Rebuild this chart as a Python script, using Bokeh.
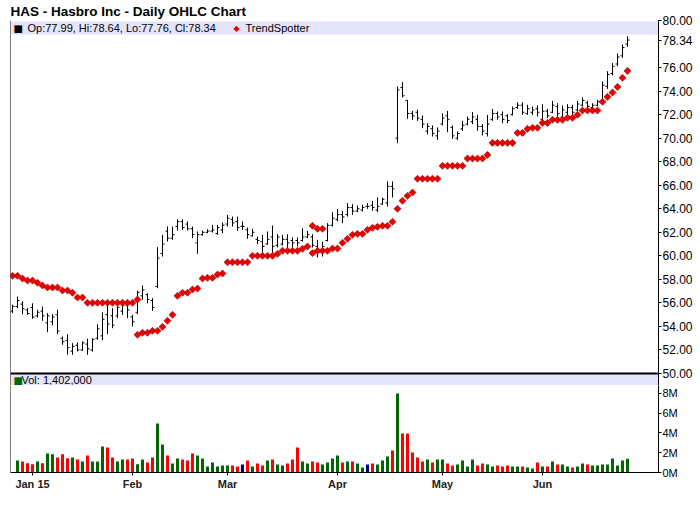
import math
from bokeh.plotting import figure
from bokeh.layouts import column
from bokeh.models import (Range1d, FixedTicker, BoxAnnotation, Span, Label,
                          ColumnDataSource, PrintfTickFormatter)
from bokeh.embed import file_html
from bokeh.resources import INLINE

# ---------------- data (Dec 26 2014 .. Jun 24 2015, one entry per trading day) ----------------
bar_index = list(range(124))

highs = [55.84, 56.54, 56.12, 55.55, 55.97, 55.41, 55.69, 55.13, 55.04, 55.41,
         53.14, 53.34, 52.58, 52.64, 52.72, 52.95, 53.00, 54.19, 55.21, 55.89,
         55.55, 55.97, 56.18, 56.12, 54.99, 57.03, 57.48, 56.82, 56.40, 60.73,
         61.78, 62.49, 62.49, 63.11, 63.11, 62.92, 62.49, 62.07, 62.15, 62.26,
         62.63, 62.63, 62.83, 63.48, 63.34, 63.34, 62.92, 62.41, 62.30, 61.64,
         61.79, 62.07, 62.58, 61.84, 61.79, 61.84, 61.56, 61.56, 62.35, 62.13,
         61.84, 61.36, 61.22, 62.78, 63.71, 63.99, 63.83, 64.48, 64.39, 64.28,
         64.34, 64.48, 64.67, 64.96, 64.96, 66.32, 66.32, 74.40, 74.76, 73.26,
         72.32, 72.41, 71.93, 71.27, 71.08, 70.91, 72.12, 72.32, 71.08, 70.57,
         71.47, 71.84, 72.21, 71.98, 71.19, 71.98, 72.49, 72.27, 72.27, 72.04,
         72.69, 73.06, 73.06, 72.83, 72.69, 72.78, 72.89, 72.49, 73.17, 72.97,
         72.78, 72.89, 72.83, 73.17, 73.46, 73.17, 72.97, 73.26, 74.82, 75.69,
         76.40, 77.20, 77.96, 78.64]

lows = [55.13, 55.55, 55.04, 54.99, 54.65, 54.76, 54.48, 53.51, 54.08, 53.34,
        52.44, 51.59, 51.59, 51.87, 51.93, 51.59, 51.87, 52.86, 52.83, 53.34,
        53.85, 54.70, 54.99, 54.70, 54.00, 55.04, 56.26, 55.97, 55.33, 57.25,
        59.94, 61.22, 61.36, 62.15, 62.21, 62.15, 61.50, 60.17, 61.70, 61.92,
        61.98, 61.78, 61.92, 62.49, 62.49, 62.13, 62.21, 61.45, 61.64, 60.99,
        60.09, 60.94, 60.14, 60.71, 60.88, 60.37, 60.71, 60.79, 61.22, 61.50,
        60.71, 59.86, 59.94, 61.22, 62.49, 62.92, 62.78, 63.34, 63.48, 63.71,
        63.77, 63.99, 63.83, 63.71, 64.34, 64.19, 64.96, 69.57, 73.46, 71.64,
        71.56, 71.47, 70.85, 70.34, 70.14, 69.86, 71.08, 70.51, 69.94, 69.86,
        70.62, 71.08, 71.19, 70.62, 70.23, 70.14, 71.47, 71.56, 71.27, 71.27,
        71.93, 72.49, 71.98, 71.98, 71.98, 71.84, 71.27, 71.70, 72.12, 71.70,
        71.56, 71.93, 71.84, 72.27, 72.69, 72.41, 72.49, 72.69, 73.06, 74.19,
        75.33, 76.12, 76.83, 77.76]

opens = [55.30, 55.70, 55.90, 55.40, 55.60, 54.90, 55.30, 54.30, 54.40, 55.00,
         53.00, 52.80, 51.90, 52.40, 52.00, 52.50, 52.00, 53.00, 53.20, 55.00,
         54.90, 54.90, 55.30, 55.80, 54.80, 55.20, 56.60, 56.70, 56.20, 57.40,
         60.20, 62.10, 61.50, 62.50, 62.90, 62.70, 62.30, 61.10, 61.80, 62.00,
         62.10, 61.90, 62.20, 62.70, 63.10, 62.90, 62.50, 62.20, 61.70, 61.40,
         61.20, 61.00, 61.60, 60.90, 61.00, 61.40, 61.30, 61.30, 61.30, 61.60,
         61.60, 60.80, 60.30, 61.30, 62.60, 63.10, 63.50, 63.50, 64.10, 63.80,
         63.90, 64.20, 64.30, 63.90, 64.40, 64.50, 65.90, 70.00, 74.30, 73.20,
         72.10, 72.20, 71.60, 70.60, 70.80, 70.20, 71.20, 71.90, 70.90, 70.00,
         70.80, 71.20, 71.40, 71.60, 71.00, 70.40, 71.60, 72.10, 72.00, 71.90,
         72.00, 72.60, 72.80, 72.10, 72.20, 72.50, 71.60, 72.30, 72.20, 72.70,
         71.80, 72.20, 72.60, 72.40, 72.80, 73.00, 72.60, 72.80, 73.10, 74.40,
         75.50, 76.30, 77.00, 77.99]

closes = [55.70, 56.20, 55.50, 55.10, 54.80, 55.20, 54.90, 54.90, 54.80, 53.60,
          52.70, 52.20, 52.30, 52.00, 52.60, 52.10, 52.90, 53.80, 54.60, 54.20,
          54.10, 55.60, 55.80, 55.40, 54.40, 56.90, 57.10, 56.30, 55.60, 59.80,
          61.00, 61.50, 61.80, 62.90, 62.40, 62.30, 61.80, 61.80, 62.00, 62.10,
          62.20, 62.40, 62.60, 63.20, 62.80, 62.40, 62.50, 61.80, 62.00, 61.30,
          60.80, 61.40, 60.80, 61.60, 61.40, 61.10, 61.10, 61.10, 61.60, 61.80,
          60.90, 60.30, 60.80, 62.60, 63.20, 63.50, 63.30, 64.10, 63.80, 64.00,
          64.10, 64.20, 64.10, 64.20, 64.80, 65.90, 65.70, 74.10, 73.60, 72.10,
          71.90, 71.70, 71.20, 71.00, 70.40, 70.60, 71.70, 71.60, 70.20, 70.40,
          71.10, 71.60, 71.80, 71.00, 70.60, 71.20, 72.10, 71.80, 71.60, 71.50,
          72.50, 72.80, 72.20, 72.50, 72.40, 72.20, 72.30, 71.90, 72.80, 72.10,
          72.40, 72.60, 72.20, 72.90, 73.20, 72.70, 72.80, 73.10, 74.50, 75.40,
          76.10, 76.90, 77.70, 78.34]

# volume in millions of shares (first day not shown)
volumes_m = [float("nan"), 1.22, 1.11, 0.94, 0.84, 1.11, 0.94, 1.92, 1.86, 1.52,
             1.86, 1.45, 1.52, 1.32, 1.11, 1.72, 1.11, 1.11, 2.63, 2.53,
             1.52, 1.11, 1.32, 1.32, 1.42, 0.84, 1.32, 1.01, 1.52, 4.96,
             2.84, 1.72, 0.91, 1.42, 1.32, 1.22, 1.92, 1.72, 1.42, 0.61,
             1.01, 0.61, 0.71, 0.71, 0.71, 0.61, 0.81, 1.22, 0.61, 0.91,
             0.71, 1.22, 1.32, 0.81, 0.71, 0.91, 1.32, 2.53, 1.11, 0.91,
             1.11, 1.01, 0.81, 1.01, 1.42, 1.72, 1.01, 1.11, 1.11, 0.91,
             0.51, 0.81, 0.91, 0.81, 1.22, 1.62, 2.23, 8.00, 3.95, 3.95,
             2.03, 1.52, 1.11, 1.32, 1.01, 1.32, 1.32, 0.91, 0.71, 0.81,
             1.22, 0.61, 1.32, 0.71, 0.91, 0.81, 0.61, 0.71, 0.61, 0.71,
             0.61, 0.61, 0.61, 0.51, 0.41, 1.01, 0.61, 0.61, 1.11, 0.81,
             0.81, 0.61, 0.51, 0.61, 0.91, 0.81, 0.71, 0.71, 0.81, 0.81,
             1.42, 0.71, 1.22, 1.402]

trendspotter = [58.30, 58.30, 58.07, 57.90, 57.90, 57.71, 57.48, 57.31, 57.31, 57.31,
                57.05, 57.05, 56.86, 56.46, 56.46, 56.01, 56.01, 56.01, 56.01, 56.01,
                56.01, 56.01, 56.01, 56.01, 56.01, 53.29, 53.46, 53.46, 53.63, 53.63,
                53.97, 54.48, 54.99, 56.60, 56.86, 56.86, 57.14, 57.22, 58.07, 58.13,
                58.13, 58.41, 58.50, 59.45, 59.45, 59.45, 59.45, 59.45, 60.00, 60.00,
                60.00, 60.00, 60.00, 60.17, 60.43, 60.43, 60.43, 60.43, 60.60, 60.79,
                60.23, 60.43, 60.43, 60.43, 60.62, 60.62, 61.11, 61.45, 61.79, 61.87,
                61.87, 62.21, 62.38, 62.47, 62.55, 62.55, 62.89, 64.00, 64.68, 65.10,
                65.38, 66.55, 66.55, 66.55, 66.55, 66.55, 67.65, 67.65, 67.65, 67.65,
                67.65, 68.27, 68.27, 68.27, 68.27, 68.58, 69.60, 69.60, 69.60, 69.60,
                69.60, 70.45, 70.45, 70.79, 70.88, 70.88, 71.30, 71.30, 71.56, 71.56,
                71.56, 71.73, 71.73, 71.99, 72.35, 72.35, 72.35, 72.35, 73.09, 73.51,
                73.88, 74.36, 75.13, 75.72]

# second TrendSpotter dot shown on signal-change days
trendspotter_alt = {25: 56.29, 60: 62.55, 61: 62.30, 62: 62.30}

price_ticks = [50, 52, 54, 56, 58, 60, 62, 64, 66, 68, 70, 72, 74, 76, 78, 80]
vol_ticks_m = [0, 2, 4, 6, 8]
month_tick_index = [4, 24, 43, 65, 86, 106]
month_tick_labels = ["Jan 15", "Feb", "Mar", "Apr", "May", "Jun"]

TITLE = "HAS - Hasbro Inc - Daily OHLC Chart"

# ---------------- styling ----------------
LAV = "#E4E4FA"
GREEN = "#006600"
RED = "#FF0000"
NAVY = "#000080"
FONT = "Liberation Sans"

X0, X1 = -0.4, 129.2
P_LO, P_HI = 48.98, 80.0
V_HI = 8.81

vol_colors = [GREEN if c > o else (RED if c < o else NAVY) for o, c in zip(opens, closes)]
alt_vals = [trendspotter_alt.get(i, float("nan")) for i in bar_index]

src = ColumnDataSource(dict(
    x=bar_index,
    xl=[i - 0.4 for i in bar_index],
    xr=[i + 0.4 for i in bar_index],
    open=opens, high=highs, low=lows, close=closes,
    trend=trendspotter, trend_alt=alt_vals,
    vol=volumes_m, color=vol_colors,
))

xr = Range1d(X0, X1)

# ---------------- price panel ----------------
FH = 365
p = figure(frame_width=648, frame_height=FH, x_range=xr, y_range=Range1d(P_LO, P_HI),
           y_axis_location="right", x_axis_location=None, toolbar_location=None,
           output_backend="svg", min_border_left=10, min_border_right=0,
           min_border_top=19, min_border_bottom=0, outline_line_color=None,
           background_fill_color="white", border_fill_color="white",
           title=TITLE)
p.grid.grid_line_color = None
p.title.text_font = FONT
p.title.text_font_size = "13.5px"
p.title.text_font_style = "bold"
p.title.text_color = "black"
p.title.align = "left"
p.title.offset = 0
p.title.standoff = 3

last_close = closes[-1]
shown_ticks = [t for t in price_ticks if abs(t - last_close) > 1.0] + [last_close]
ya = p.yaxis[0]
ya.ticker = FixedTicker(ticks=shown_ticks)
ya.formatter = PrintfTickFormatter(format="%.2f")
ya.major_label_text_font = FONT
ya.major_label_text_font_size = "12px"
ya.major_label_text_color = "black"
ya.major_tick_out = 3
ya.major_tick_in = 0
ya.minor_tick_out = 0
ya.minor_tick_in = 0
ya.major_label_standoff = 1
ya.axis_line_color = "black"

p.add_layout(BoxAnnotation(top=79.92, bottom=78.81, fill_color=LAV, fill_alpha=1,
                           line_color=None, level="underlay"))
p.add_layout(BoxAnnotation(top=50, bottom=P_LO, fill_color=LAV, fill_alpha=1,
                           line_color=None, level="underlay"))
p.add_layout(Span(location=50, dimension="width", line_color="black", line_width=2))
p.add_layout(Span(location=X0, dimension="height", line_color="black", line_width=1))

p.segment(x0="x", y0="low", x1="x", y1="high", source=src, line_color="black", line_width=1)
p.segment(x0="xl", y0="open", x1="x", y1="open", source=src, line_color="black", line_width=1)
p.segment(x0="x", y0="close", x1="xr", y1="close", source=src, line_color="black", line_width=1)

p.scatter(x="x", y="trend", source=src, marker="square", angle=math.pi / 4, size=5,
          fill_color="#EE0000", line_color="#990000", line_width=0.6)
p.scatter(x="x", y="trend_alt", source=src, marker="square", angle=math.pi / 4, size=5,
          fill_color="#EE0000", line_color="#990000", line_width=0.6)

# legend texts (screen units relative to the frame)
legend_y = FH - 7.5
p.add_layout(Label(x=3, y=legend_y, x_units="screen", y_units="screen", text="\u25A0",
                   text_font="DejaVu Sans", text_font_size="10px", text_baseline="middle",
                   text_color="black"))
op_text = "Op:%.2f, Hi:%.2f, Lo:%.2f, Cl:%.2f" % (opens[-1], highs[-1], lows[-1], closes[-1])
p.add_layout(Label(x=17, y=legend_y, x_units="screen", y_units="screen", text=op_text,
                   text_font=FONT, text_font_size="11px", text_baseline="middle",
                   text_color="black"))
p.add_layout(Label(x=223, y=legend_y, x_units="screen", y_units="screen", text="\u25C6",
                   text_font="DejaVu Sans", text_font_size="8px", text_baseline="middle",
                   text_color="#EE0000"))
p.add_layout(Label(x=235, y=legend_y, x_units="screen", y_units="screen", text="TrendSpotter",
                   text_font=FONT, text_font_size="11px", text_baseline="middle",
                   text_color="black"))
p.add_layout(Label(x=3, y=5.5, x_units="screen", y_units="screen", text="\u25A0",
                   text_font="DejaVu Sans", text_font_size="10px", text_baseline="middle",
                   text_color=GREEN))
vol_text = "Vol: {:,}".format(int(round(volumes_m[-1] * 1e6)))
p.add_layout(Label(x=11, y=5.5, x_units="screen", y_units="screen", text=vol_text,
                   text_font=FONT, text_font_size="11px", text_baseline="middle",
                   text_color="black"))

# ---------------- volume panel ----------------
v = figure(frame_width=648, frame_height=87, x_range=xr, y_range=Range1d(0, V_HI),
           y_axis_location="right", toolbar_location=None, output_backend="svg",
           min_border_left=10, min_border_right=0, min_border_top=0, min_border_bottom=2,
           outline_line_color=None, background_fill_color="white", border_fill_color="white")
v.grid.grid_line_color = None

vy = v.yaxis[0]
vy.ticker = FixedTicker(ticks=vol_ticks_m)
vy.formatter = PrintfTickFormatter(format="%dM")
vy.major_label_text_font = FONT
vy.major_label_text_font_size = "11px"
vy.major_label_text_color = "black"
vy.major_tick_out = 3
vy.major_tick_in = 0
vy.minor_tick_out = 0
vy.minor_tick_in = 0
vy.major_label_standoff = 1
vy.axis_line_color = "black"

vx = v.xaxis[0]
vx.ticker = FixedTicker(ticks=month_tick_index)
vx.major_label_overrides = {k: lab for k, lab in zip(month_tick_index, month_tick_labels)}
vx.major_label_text_font = FONT
vx.major_label_text_font_size = "11px"
vx.major_label_text_font_style = "bold"
vx.major_label_text_color = "#222222"
vx.major_tick_out = 3
vx.major_tick_in = 0
vx.minor_tick_out = 0
vx.minor_tick_in = 0
vx.major_label_standoff = 2
vx.axis_line_color = "black"

v.add_layout(Span(location=X0, dimension="height", line_color="black", line_width=1))
v.vbar(x="x", top="vol", bottom=0, width=0.6, source=src, fill_color="color",
       line_color=None)

layout = column(p, v, spacing=0)
open("out.html", "w").write(file_html(layout, INLINE))
